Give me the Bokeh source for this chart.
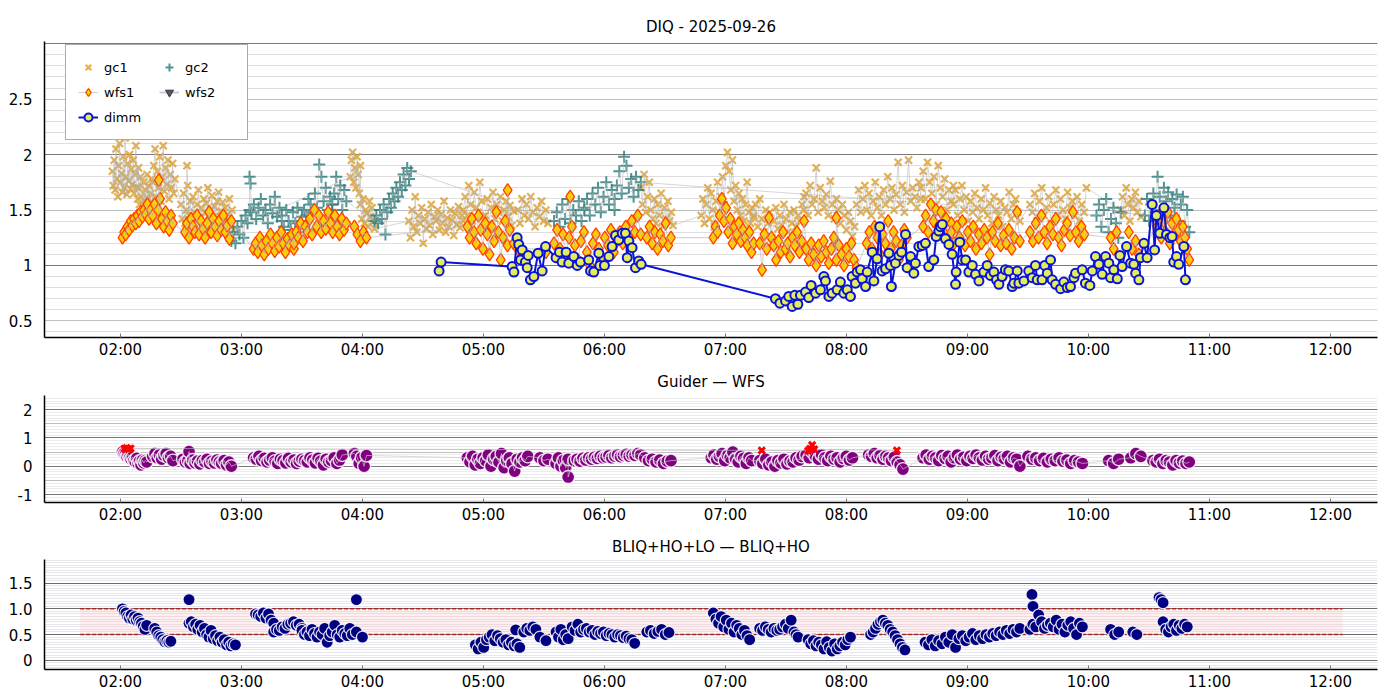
import numpy as np
from bokeh.plotting import figure
from bokeh.layouts import column
from bokeh.models import (ColumnDataSource, Range1d, FixedTicker, SingleIntervalTicker, Grid,
                          CustomJSTickFormatter, Legend, LegendItem)
from bokeh.embed import file_html
from bokeh.resources import INLINE

DATE = "2025-09-26"
TITLE_TOP = "DIQ - 2025-09-26"
TITLE_MID = "Guider — WFS"
TITLE_BOT = "BLIQ+HO+LO — BLIQ+HO"
X_START, X_END = "01:22:20", "12:23:20"
X_TICKS = ["02:00", "03:00", "04:00", "05:00", "06:00", "07:00", "08:00", "09:00", "10:00", "11:00", "12:00"]

TOP_Y = (0.35, 3.02)
TOP_YTICKS = [0.5, 1, 1.5, 2, 2.5]
TOP_YLABELS = ["0.5", "1", "1.5", "2", "2.5"]
MID_Y = (-1.28, 2.5)
MID_YTICKS = [-1, 0, 1, 2]
MID_YLABELS = ["-1", "0", "1", "2"]
BOT_Y = (-0.18, 1.96)
BOT_YTICKS = [0, 0.5, 1.0, 1.5]
BOT_YLABELS = ["0", "0.5", "1.0", "1.5"]
BAND_START, BAND_END = "01:40", "12:06"
BAND_LO, BAND_HI = 0.5, 1.0

# ---- top panel series: (start, end, values) blocks of samples ----
GC1 = [
    ("01:56", "02:09", [1.85, 1.72, 1.95, 1.68, 2.05, 1.78, 1.62, 1.9, 2.1, 1.75, 1.83, 1.66, 1.98, 1.7, 2.15,
                        1.8, 1.64, 1.92, 1.76, 2.0, 1.69, 1.87, 1.73, 1.95, 1.65, 1.82, 2.08, 1.71, 1.6, 1.88]),
    ("02:09", "02:16", [1.7, 1.55, 1.8, 1.62, 1.48, 1.75, 1.58, 1.68, 1.5, 1.82, 1.6, 1.72, 1.52, 1.65, 1.78, 1.57]),
    ("02:16", "02:27", [1.75, 1.9, 2.05, 1.62, 1.85, 1.7, 1.98, 1.58, 1.8, 2.08, 1.67, 1.88, 1.73, 1.95, 1.6,
                        1.82, 1.7, 1.92, 1.65, 1.78]),
    ("02:33", "02:33", [1.9]),
    ("02:30", "02:56", [1.55, 1.42, 1.65, 1.38, 1.5, 1.72, 1.45, 1.58, 1.35, 1.62, 1.48, 1.4, 1.55, 1.68, 1.43,
                        1.52, 1.37, 1.6, 1.47, 1.56, 1.7, 1.41, 1.5, 1.63, 1.36, 1.53, 1.45, 1.58, 1.66, 1.39,
                        1.49, 1.57, 1.44, 1.52, 1.35, 1.46, 1.6, 1.4, 1.5, 1.32]),
    ("03:54", "03:59", [1.8, 1.95, 2.02, 1.75, 1.88, 1.7, 1.98, 1.82, 1.65, 1.9]),
    ("03:59", "04:06", [1.55, 1.42, 1.6, 1.38, 1.5, 1.47, 1.35, 1.58, 1.44, 1.52, 1.4, 1.33]),
    ("04:23", "04:50", [1.4, 1.25, 1.5, 1.35, 1.62, 1.3, 1.45, 1.38, 1.52, 1.2, 1.42, 1.33, 1.48, 1.36, 1.55,
                        1.28, 1.44, 1.4, 1.5, 1.32, 1.46, 1.38, 1.58, 1.3, 1.43, 1.35, 1.5, 1.41, 1.27, 1.47,
                        1.37, 1.53, 1.34, 1.45, 1.4]),
    ("04:50", "05:00", [1.5, 1.62, 1.45, 1.72, 1.55, 1.4, 1.66, 1.52, 1.48, 1.75, 1.58, 1.44]),
    ("05:01", "05:15", [1.45, 1.6, 1.38, 1.52, 1.66, 1.42, 1.55, 1.48, 1.62, 1.4, 1.5, 1.58, 1.44, 1.54, 1.36, 1.49]),
    ("05:17", "05:32", [1.5, 1.38, 1.6, 1.45, 1.55, 1.42, 1.62, 1.48, 1.35, 1.52, 1.44, 1.58, 1.4, 1.5, 1.38]),
    ("06:18", "06:34", [1.7, 1.55, 1.82, 1.48, 1.62, 1.75, 1.5, 1.42, 1.6, 1.38, 1.55, 1.45, 1.65, 1.35, 1.52,
                        1.42, 1.58, 1.4, 1.48, 1.36]),
    ("06:48", "07:14", [1.45, 1.6, 1.38, 1.55, 1.7, 1.42, 1.65, 1.5, 1.35, 1.58, 1.75, 1.48, 1.62, 1.8, 1.55,
                        1.9, 2.02, 1.85, 1.68, 1.95, 1.58, 1.72, 1.5, 1.65, 1.45, 1.6, 1.4, 1.55, 1.75, 1.48,
                        1.38, 1.52, 1.43]),
    ("07:14", "07:39", [1.45, 1.55, 1.35, 1.6, 1.42, 1.3, 1.5, 1.38, 1.48, 1.25, 1.4, 1.52, 1.33, 1.45, 1.36,
                        1.55, 1.42, 1.3, 1.48, 1.38, 1.5, 1.35, 1.45, 1.4, 1.55, 1.62]),
    ("07:39", "08:04", [1.5, 1.65, 1.45, 1.72, 1.55, 1.6, 1.88, 1.48, 1.7, 1.58, 1.52, 1.64, 1.45, 1.76, 1.55,
                        1.42, 1.6, 1.5, 1.38, 1.55, 1.45, 1.32, 1.48, 1.4, 1.26, 1.35]),
    ("08:05", "08:37", [1.55, 1.68, 1.48, 1.6, 1.72, 1.5, 1.65, 1.45, 1.58, 1.75, 1.52, 1.62, 1.45, 1.68, 1.55,
                        1.8, 1.6, 1.7, 1.5, 1.64, 1.93, 1.55, 1.72, 1.48, 1.66, 1.95, 1.58, 1.7, 1.62, 1.52,
                        1.75, 1.6]),
    ("08:37", "08:53", [1.7, 1.85, 1.6, 1.93, 1.75, 1.65, 1.8, 1.55, 1.9, 1.7, 1.62, 1.78, 1.5, 1.68, 1.58, 1.72]),
    ("08:53", "09:26", [1.55, 1.68, 1.45, 1.6, 1.72, 1.5, 1.62, 1.4, 1.58, 1.48, 1.65, 1.52, 1.42, 1.6, 1.5,
                        1.7, 1.45, 1.56, 1.38, 1.62, 1.5, 1.45, 1.58, 1.35, 1.52, 1.48, 1.66, 1.42, 1.55, 1.6,
                        1.48, 1.4]),
    ("09:31", "09:59", [1.55, 1.48, 1.65, 1.4, 1.58, 1.7, 1.45, 1.52, 1.62, 1.38, 1.55, 1.68, 1.45, 1.6, 1.5,
                        1.42, 1.66, 1.52, 1.58, 1.45, 1.62, 1.4, 1.55, 1.48, 1.7]),
    ("10:16", "10:26", [1.5, 1.62, 1.45, 1.7, 1.55, 1.4, 1.6, 1.52, 1.66, 1.48, 1.58, 1.44]),
]

GC2 = [
    ("02:55", "03:04", [1.22, 1.3, 1.2, 1.35, 1.28, 1.4, 1.25, 1.45, 1.38, 1.5]),
    ("03:04", "03:04:30", [1.8, 1.74]),
    ("03:05", "03:20", [1.48, 1.55, 1.42, 1.52, 1.6, 1.45, 1.5, 1.38, 1.55, 1.47, 1.62, 1.44, 1.52, 1.4]),
    ("03:20", "03:30", [1.45, 1.35, 1.5, 1.4, 1.32, 1.48, 1.38, 1.52, 1.3, 1.44]),
    ("03:30", "03:45", [1.4, 1.5, 1.45, 1.6, 1.55, 1.48, 1.65, 1.52, 1.91, 1.8, 1.58, 1.7, 1.5, 1.62, 1.55]),
    ("03:45", "03:52", [1.55, 1.65, 1.8, 1.6, 1.72, 1.5, 1.68, 1.58]),
    ("04:06", "04:24", [1.4, 1.45, 1.38, 1.5, 1.42, 1.55, 1.28, 1.48, 1.6, 1.52, 1.65, 1.58, 1.7, 1.62, 1.75,
                        1.68, 1.82, 1.72, 1.88, 1.78, 1.85]),
    ("05:35", "05:50", [1.4, 1.48, 1.35, 1.55, 1.42, 1.6, 1.38, 1.5, 1.45, 1.58, 1.4, 1.52]),
    ("05:50", "06:05", [1.5, 1.6, 1.45, 1.65, 1.55, 1.7, 1.48, 1.62, 1.75, 1.55, 1.68, 1.5]),
    ("06:05", "06:18", [1.6, 1.72, 1.85, 1.65, 1.98, 1.9, 1.7, 1.78, 1.62, 1.8, 1.68, 1.75]),
    ("10:04", "10:16", [1.45, 1.55, 1.35, 1.5, 1.6, 1.3, 1.42, 1.52, 1.38, 1.25, 1.48]),
    ("10:28", "10:50", [1.45, 1.6, 1.4, 1.55, 1.65, 1.48, 1.8, 1.62, 1.5, 1.7, 1.58, 1.66, 1.45, 1.6, 1.52,
                        1.64, 1.4, 1.55, 1.62, 1.35, 1.5, 1.3]),
]

WFS1 = [
    ("02:01", "02:15", [1.25, 1.3, 1.28, 1.35, 1.32, 1.4, 1.36, 1.42, 1.38, 1.45, 1.4, 1.48, 1.44, 1.5, 1.46,
                        1.55, 1.42, 1.5]),
    ("02:19", "02:19", [1.77]),
    ("02:16", "02:26", [1.45, 1.55, 1.38, 1.5, 1.6, 1.42, 1.35, 1.48, 1.4, 1.32, 1.45, 1.38]),
    ("02:32", "02:55", [1.3, 1.38, 1.25, 1.42, 1.35, 1.3, 1.45, 1.28, 1.4, 1.33, 1.25, 1.38, 1.48, 1.3, 1.42,
                        1.35, 1.27, 1.4, 1.32, 1.45, 1.3, 1.36, 1.24, 1.4]),
    ("03:06", "03:26", [1.15, 1.2, 1.12, 1.25, 1.18, 1.1, 1.22, 1.15, 1.28, 1.2, 1.13, 1.25, 1.17, 1.3, 1.2,
                        1.12, 1.24, 1.18, 1.28, 1.15]),
    ("03:26", "03:52", [1.2, 1.3, 1.25, 1.38, 1.22, 1.35, 1.3, 1.42, 1.28, 1.5, 1.35, 1.45, 1.3, 1.4, 1.33,
                        1.48, 1.38, 1.3, 1.45, 1.35, 1.28, 1.42, 1.32, 1.38]),
    ("03:56", "04:02", [1.35, 1.28, 1.22, 1.3, 1.25]),
    ("04:52", "05:13", [1.35, 1.25, 1.42, 1.3, 1.2, 1.45, 1.32, 1.15, 1.38, 1.28, 1.1, 1.35, 1.22, 1.48, 1.3,
                        1.05, 1.25, 1.4, 1.18, 1.32]),
    ("05:12", "05:12", [1.68]),
    ("05:15", "05:17", [1.2, 1.15]),
    ("05:30", "05:31", [1.15, 1.12]),
    ("05:43", "05:43", [1.62]),
    ("05:35", "06:18", [1.2, 1.32, 1.15, 1.28, 1.1, 1.25, 1.35, 1.18, 1.05, 1.22, 1.3, 1.12, 1.0, 1.2, 1.28,
                        1.15, 1.08, 1.25, 1.18, 1.32, 1.12, 1.22, 1.3, 1.2, 1.35, 1.25, 1.4, 1.3, 1.45, 1.28]),
    ("06:21", "06:33", [1.25, 1.35, 1.2, 1.3, 1.15, 1.28, 1.22, 1.38, 1.18, 1.25]),
    ("06:54", "07:14", [1.25, 1.35, 1.3, 1.45, 1.6, 1.4, 1.52, 1.3, 1.42, 1.2, 1.35, 1.28, 1.38, 1.22, 1.32,
                        1.25, 1.18, 1.3, 1.12, 1.2]),
    ("07:17", "07:39", [1.2, 0.96, 1.28, 1.15, 1.43, 1.25, 1.18, 1.05, 1.22, 1.12, 1.3, 1.15, 1.2, 1.08, 1.25,
                        1.18, 1.3, 1.12, 1.22, 1.4]),
    ("07:40", "08:05", [1.15, 1.05, 1.2, 1.1, 1.0, 1.18, 1.08, 1.22, 1.12, 1.02, 1.15, 1.25, 1.05, 1.18, 1.1,
                        1.0, 1.15, 1.08, 1.2, 1.05, 0.98]),
    ("07:55", "07:55", [1.43]),
    ("08:10", "08:30", [1.2, 1.3, 1.15, 1.35, 1.25, 1.1, 1.28, 1.2, 1.4, 1.15, 1.3, 1.22, 1.05, 1.18, 1.32, 1.25]),
    ("08:38", "08:52", [1.35, 1.45, 1.3, 1.55, 1.4, 1.5, 1.35, 1.48, 1.3, 1.42, 1.25, 1.38]),
    ("08:52", "09:26", [1.3, 1.2, 1.35, 1.25, 1.4, 1.18, 1.3, 1.22, 1.35, 1.15, 1.28, 1.2, 1.32, 1.25, 1.1,
                        1.3, 1.22, 1.38, 1.18, 1.27, 1.2, 1.32, 1.15, 1.25, 1.48, 1.22]),
    ("09:31", "09:58", [1.3, 1.22, 1.38, 1.25, 1.45, 1.3, 1.2, 1.35, 1.28, 1.42, 1.25, 1.18, 1.32, 1.38, 1.27,
                        1.48, 1.3, 1.22, 1.35, 1.28]),
    ("10:11", "10:14", [1.25, 1.15, 1.3]),
    ("10:20", "10:25", [1.3, 1.15, 1.22, 1.1]),
    ("10:34", "10:50", [1.35, 1.45, 1.25, 1.4, 1.3, 1.48, 1.2, 1.38, 1.28, 1.42, 1.32, 1.22, 1.35, 1.25, 1.15,
                        1.05]),
]

# wfs2 has no valid samples on this night (a single missing value keeps its legend entry)
WFS2_T = ["05:00"]
WFS2_V = [float("nan")]

DIMM_T = ["04:38:00", "04:39:00", "05:14:12", "05:15:06", "05:16:42", "05:17:30", "05:18:24", "05:19:12",
          "05:20:48", "05:21:42", "05:22:12", "05:23:18", "05:25:00", "05:27:06", "05:29:06", "05:30:48",
          "05:36:00", "05:37:42", "05:39:00", "05:41:00", "05:42:18", "05:44:48", "05:46:30", "05:48:06",
          "05:52:12", "05:53:06", "05:54:42", "05:57:12", "05:57:42", "06:00:00", "06:02:12", "06:03:48",
          "06:05:30", "06:07:06", "06:08:48", "06:10:24", "06:11:18", "06:12:06", "06:13:42", "06:15:24",
          "06:17:00", "06:18:12",
          "07:24:48", "07:27:00", "07:29:48", "07:31:24", "07:33:06", "07:34:24", "07:35:54", "07:37:12",
          "07:39:42", "07:41:18", "07:42:30", "07:44:42", "07:47:06", "07:48:48", "07:49:36", "07:51:18",
          "07:52:54", "07:55:24", "07:57:00", "07:58:42", "08:00:24", "08:02:00", "08:02:48", "08:04:30",
          "08:05:18", "08:07:00", "08:07:48", "08:09:30", "08:10:18", "08:12:48", "08:13:36", "08:15:12",
          "08:16:30", "08:17:42", "08:19:24", "08:21:00", "08:21:48", "08:22:18", "08:24:18", "08:26:00",
          "08:27:18", "08:29:18", "08:30:06", "08:31:48", "08:33:24", "08:34:12", "08:35:54", "08:37:36",
          "08:39:12", "08:40:48", "08:43:18", "08:44:30", "08:45:48", "08:46:36", "08:47:30", "08:49:06",
          "08:50:48", "08:52:24", "08:54:06", "08:54:24", "08:56:12", "08:57:24", "08:59:06", "09:00:42",
          "09:02:24", "09:04:00", "09:05:42", "09:08:06", "09:09:48", "09:11:24", "09:13:06", "09:14:24",
          "09:15:36", "09:17:12", "09:18:48", "09:20:30",
          "09:22:12", "09:23:00", "09:24:42", "09:25:30", "09:28:00", "09:30:24", "09:32:06", "09:33:42",
          "09:34:36", "09:37:00", "09:38:18", "09:39:36", "09:41:12", "09:42:00", "09:43:42", "09:46:12",
          "09:47:48", "09:49:30", "09:51:06", "09:52:48", "09:53:36", "09:56:54", "09:58:30", "10:00:42",
          "10:01:54", "10:03:30", "10:05:12", "10:06:48", "10:08:30", "10:10:06", "10:11:00", "10:12:36",
          "10:14:18", "10:15:36", "10:16:42", "10:18:54", "10:20:54", "10:22:30", "10:23:24", "10:25:00",
          "10:25:48", "10:27:30", "10:29:06", "10:31:36", "10:32:48", "10:33:42", "10:35:24", "10:37:24",
          "10:38:42", "10:40:24", "10:41:30", "10:42:18", "10:43:42", "10:44:48", "10:47:18", "10:48:06"]
DIMM_V = [0.95, 1.03, 0.99, 0.94, 1.25, 1.19, 1.05, 1.14,
          1.03, 0.98, 1.09, 0.87, 0.90, 1.11, 0.95, 1.17,
          1.07, 1.12, 1.03, 1.12, 1.02, 1.08, 1.00, 1.03,
          1.05, 0.95, 0.94, 1.11, 1.00, 1.00, 1.08, 1.17,
          1.27, 1.23, 1.29, 1.29, 1.07, 1.22, 1.16, 0.98,
          1.04, 1.01,
          0.70, 0.66, 0.68, 0.72, 0.63, 0.73, 0.65, 0.73,
          0.76, 0.71, 0.82, 0.75, 0.78, 0.90, 0.86, 0.72,
          0.75, 0.78, 0.85, 0.75, 0.78, 0.72, 0.90, 0.84,
          0.94, 0.96, 0.88, 0.81, 0.94, 1.12, 0.86, 1.06,
          1.35, 0.95, 0.97, 1.11, 1.00, 0.81, 1.02, 1.09,
          1.12, 1.28, 0.98, 1.08, 0.93, 1.02, 1.17, 1.18,
          1.20, 0.99, 1.05, 1.26, 1.31, 1.35, 1.37, 1.24,
          1.19, 1.10, 0.83, 0.94, 1.21, 1.05, 1.05, 0.94,
          1.00, 0.92, 0.86, 0.94, 1.00, 0.91, 0.94, 0.87,
          0.83, 0.90, 0.96, 0.95,
          0.81, 0.84, 0.95, 0.84, 0.86, 0.95, 0.89, 1.00,
          0.87, 0.87, 1.00, 0.93, 1.05, 0.87, 0.83, 0.79,
          0.85, 0.80, 0.81, 0.89, 0.93, 0.96, 0.84, 0.82,
          0.95, 1.08, 1.01, 0.92, 1.08, 1.02, 0.89, 0.96,
          0.88, 1.09, 0.99, 1.17, 1.02, 1.01, 0.93, 0.87,
          1.07, 1.20, 1.07, 1.55, 1.14, 1.45, 1.29, 1.52,
          1.28, 1.25, 1.26, 1.03, 1.08, 1.01, 1.17, 0.87]

# ---- middle panel: Guider - WFS ----
GW = [
    ("02:01", "02:13", [0.5, 0.45, 0.4, 0.35, 0.42, 0.3, 0.25, 0.32, 0.2, 0.15, 0.28, 0.1, 0.18, 0.05, 0.22,
                        0.12, 0.2, 0.15]),
    ("02:16", "02:26", [0.35, 0.45, 0.3, 0.4, 0.25, 0.38, 0.45, 0.3, 0.35, 0.2]),
    ("02:34", "02:34", [0.52]),
    ("02:31", "02:55", [0.25, 0.15, 0.2, 0.1, 0.22, 0.12, 0.18, 0.08, 0.2, 0.15, 0.25, 0.1, 0.18, 0.12, 0.22,
                        0.15, 0.1, 0.2, 0.05, 0.15, 0.0]),
    ("03:06", "03:50", [0.3, 0.25, 0.35, 0.2, 0.28, 0.15, 0.22, 0.3, 0.18, 0.1, 0.25, 0.2, 0.12, 0.28, 0.15,
                        0.22, 0.1, 0.18, 0.25, 0.2, 0.15, 0.3, 0.22, 0.12, 0.28, 0.18, 0.05, 0.25, 0.15, 0.2,
                        0.3, 0.1, 0.22, 0.4]),
    ("03:56", "04:02", [0.45, 0.35, 0.1, 0.3, 0.0, 0.38]),
    ("04:52", "05:22", [0.3, 0.15, 0.35, 0.05, 0.25, 0.1, 0.3, 0.2, 0.4, 0.0, 0.25, 0.35, 0.15, 0.45, -0.05,
                        0.2, 0.3, 0.1, -0.17, 0.25, 0.15, 0.3, 0.2, 0.35]),
    ("05:28", "05:32", [0.3, 0.2, 0.25]),
    ("05:36", "05:42", [0.1, 0.3, 0.0, 0.2, -0.05, 0.25]),
    ("05:42", "05:42", [-0.38]),
    ("05:45", "06:18", [0.2, 0.25, 0.18, 0.28, 0.22, 0.3, 0.25, 0.32, 0.28, 0.35, 0.3, 0.33, 0.38, 0.3, 0.36,
                        0.4, 0.34, 0.38, 0.42, 0.36, 0.4, 0.38, 0.45, 0.4]),
    ("06:20", "06:33", [0.3, 0.2, 0.25, 0.15, 0.22, 0.1, 0.18, 0.2]),
    ("06:53", "07:13", [0.3, 0.4, 0.25, 0.35, 0.45, 0.2, 0.38, 0.3, 0.5, 0.25, 0.15, 0.35, 0.28, 0.1, 0.3, 0.2]),
    ("07:17", "07:38", [0.2, 0.1, 0.25, 0.05, 0.15, 0.0, 0.2, 0.12, 0.25, 0.08, 0.18, 0.15, 0.3, 0.22, 0.35]),
    ("07:40", "08:03", [0.4, 0.3, 0.5, 0.35, 0.25, 0.4, 0.3, 0.2, 0.35, 0.25, 0.3, 0.15, 0.28, 0.35, 0.22, 0.3]),
    ("08:11", "08:28", [0.4, 0.35, 0.45, 0.3, 0.38, 0.25, 0.35, 0.3, 0.2, 0.32, 0.15, 0.05, -0.1]),
    ("08:38", "09:26", [0.3, 0.4, 0.25, 0.35, 0.3, 0.2, 0.38, 0.28, 0.35, 0.15, 0.3, 0.4, 0.25, 0.32, 0.2,
                        0.35, 0.28, 0.4, 0.3, 0.22, 0.35, 0.25, 0.3, 0.38, 0.2, 0.32, 0.27, 0.35, 0.15, 0.3,
                        0.25, 0.0]),
    ("09:30", "09:57", [0.35, 0.25, 0.3, 0.2, 0.28, 0.15, 0.25, 0.2, 0.3, 0.18, 0.22, 0.1, 0.2, 0.15, 0.1]),
    ("10:10", "10:15", [0.2, 0.1, 0.25]),
    ("10:21", "10:26", [0.3, 0.45, 0.35]),
    ("10:32", "10:50", [0.2, 0.15, 0.25, 0.1, 0.2, 0.15, 0.05, 0.2, 0.12, 0.18, 0.1, 0.15]),
]
GW_OUT_T = ["02:02", "02:03", "02:04", "02:05", "07:18", "07:41", "07:42", "07:43", "07:44", "08:25"]
GW_OUT_V = [0.62, 0.65, 0.60, 0.63, 0.56, 0.55, 0.62, 0.75, 0.60, 0.56]

# ---- bottom panel: BLIQ+HO+LO - BLIQ+HO ----
BL = [
    ("02:01", "02:13", [1.0, 0.95, 0.92, 0.85, 0.82, 0.88, 0.8, 0.85, 0.78, 0.82, 0.75, 0.72, 0.66, 0.6, 0.68]),
    ("02:17", "02:25", [0.62, 0.55, 0.48, 0.45, 0.4, 0.36, 0.38, 0.35, 0.37]),
    ("02:34", "02:34", [1.18]),
    ("02:34", "02:57", [0.72, 0.75, 0.65, 0.7, 0.6, 0.68, 0.55, 0.62, 0.5, 0.45, 0.58, 0.42, 0.48, 0.38, 0.45,
                        0.35, 0.4, 0.3, 0.35, 0.28, 0.32, 0.3]),
    ("03:07", "03:16", [0.9, 0.88, 0.85, 0.92, 0.82, 0.9, 0.78, 0.72]),
    ("03:16", "03:30", [0.55, 0.6, 0.58, 0.65, 0.62, 0.7, 0.72, 0.75, 0.68, 0.7, 0.62]),
    ("03:30", "03:55", [0.58, 0.5, 0.55, 0.48, 0.6, 0.52, 0.45, 0.55, 0.5, 0.62, 0.35, 0.48, 0.55, 0.68, 0.5,
                        0.45, 0.58, 0.52, 0.48, 0.62, 0.5]),
    ("03:57", "03:57", [1.18]),
    ("03:57", "04:00", [0.55, 0.45]),
    ("04:56", "05:18", [0.3, 0.22, 0.35, 0.25, 0.4, 0.45, 0.5, 0.38, 0.48, 0.42, 0.35, 0.4, 0.3, 0.35, 0.28,
                        0.32, 0.25]),
    ("05:16", "05:16", [0.59]),
    ("05:20", "05:26", [0.55, 0.62, 0.58, 0.65, 0.6]),
    ("05:28", "05:31", [0.45, 0.38]),
    ("05:36", "05:42", [0.55, 0.45, 0.6, 0.4, 0.5, 0.42]),
    ("05:44", "06:15", [0.65, 0.58, 0.7, 0.55, 0.6, 0.62, 0.55, 0.58, 0.5, 0.56, 0.52, 0.55, 0.48, 0.52, 0.5,
                        0.45, 0.5, 0.48, 0.44, 0.47, 0.42, 0.4, 0.33]),
    ("06:21", "06:32", [0.55, 0.58, 0.52, 0.56, 0.6, 0.5, 0.54]),
    ("06:54", "07:12", [0.92, 0.8, 0.72, 0.85, 0.65, 0.78, 0.6, 0.72, 0.55, 0.68, 0.62, 0.5, 0.58, 0.48, 0.4]),
    ("07:17", "07:34", [0.62, 0.58, 0.65, 0.6, 0.55, 0.62, 0.58, 0.6, 0.65, 0.7, 0.62, 0.78, 0.55]),
    ("07:35", "07:36", [0.5, 0.45]),
    ("07:41", "08:02", [0.4, 0.32, 0.38, 0.28, 0.35, 0.3, 0.22, 0.36, 0.25, 0.18, 0.32, 0.22, 0.28, 0.35, 0.3,
                        0.4, 0.45]),
    ("08:12", "08:29", [0.5, 0.55, 0.62, 0.7, 0.75, 0.78, 0.72, 0.68, 0.6, 0.55, 0.48, 0.4, 0.32, 0.25, 0.2]),
    ("08:39", "09:26", [0.35, 0.3, 0.4, 0.28, 0.38, 0.32, 0.45, 0.35, 0.5, 0.25, 0.42, 0.48, 0.38, 0.45, 0.52,
                        0.4, 0.48, 0.42, 0.5, 0.45, 0.52, 0.48, 0.55, 0.5, 0.58, 0.52, 0.6, 0.55, 0.62]),
    ("09:32", "09:32:30", [1.28, 1.05]),
    ("09:31", "09:57", [0.6, 0.7, 0.65, 0.88, 0.75, 0.62, 0.68, 0.72, 0.65, 0.78, 0.6, 0.7, 0.55, 0.68, 0.75,
                        0.62, 0.5, 0.72, 0.65]),
    ("10:11", "10:15", [0.6, 0.5, 0.55]),
    ("10:22", "10:24", [0.55, 0.5]),
    ("10:35", "10:37", [1.22, 1.18, 1.12]),
    ("10:37", "10:49", [0.75, 0.6, 0.55, 0.65, 0.7, 0.58, 0.68, 0.62, 0.7, 0.65]),
]

EPOCH = np.datetime64("1970-01-01T00:00:00")


def ms(t):
    if t.count(":") == 1:
        t = t + ":00"
    return float((np.datetime64(f"{DATE}T{t}") - EPOCH) / np.timedelta64(1, "ms"))


def expand(blocks):
    xs, ys = [], []
    for start, end, vals in blocks:
        t0, t1 = ms(start), ms(end)
        n = len(vals)
        xs.extend(list(np.linspace(t0, t1, n)) if n > 1 else [t0])
        ys.extend(vals)
    order = np.argsort(xs, kind="stable")
    return [float(xs[i]) for i in order], [ys[i] for i in order]


def src(xs, ys):
    return ColumnDataSource(dict(x=xs, y=ys))


FONT = "DejaVu Sans"
FRAME_W = 1333
LABEL_JS = "const i = tv.indexOf(tick); return i >= 0 ? tl[i] : '';"


def make_fig(title, yr, yticks, ylabels, fh, top, bottom, standoff):
    p = figure(output_backend="svg", toolbar_location=None, frame_width=FRAME_W, frame_height=fh,
               x_range=Range1d(ms(X_START), ms(X_END)), y_range=Range1d(*yr),
               min_border_left=44, min_border_right=8, min_border_top=top, min_border_bottom=bottom,
               title=title)
    p.title.align = "center"
    p.title.text_font = FONT
    p.title.text_font_size = "15px"
    p.title.text_font_style = "normal"
    p.title.text_color = "black"
    p.title.standoff = standoff
    p.xgrid.visible = False
    p.ygrid.visible = False
    p.outline_line_color = None
    p.background_fill_color = "white"
    p.border_fill_color = "white"
    for ax in (p.xaxis[0], p.yaxis[0]):
        ax.axis_line_color = "black"
        ax.axis_line_width = 1.5
        ax.major_label_text_font = FONT
        ax.major_label_text_font_size = "15px"
        ax.major_label_text_color = "black"
        ax.minor_tick_line_color = None
    xt = [ms(t) for t in X_TICKS]
    p.xaxis.ticker = FixedTicker(ticks=xt)
    p.xaxis.formatter = CustomJSTickFormatter(args=dict(tv=xt, tl=X_TICKS), code=LABEL_JS)
    p.xaxis.major_tick_in = 4
    p.xaxis.major_tick_out = 0
    p.xaxis.major_tick_line_color = "#777777"
    p.xaxis.major_label_standoff = 3
    p.yaxis.ticker = FixedTicker(ticks=yticks)
    p.yaxis.formatter = CustomJSTickFormatter(args=dict(tv=yticks, tl=ylabels), code=LABEL_JS)
    p.yaxis.major_tick_line_color = None
    p.yaxis.major_label_standoff = 6
    return p


def hgrid(p, interval, color, width=1.0):
    g = Grid(dimension=1, ticker=SingleIntervalTicker(interval=interval), grid_line_color=color,
             grid_line_width=width, level="underlay")
    p.add_layout(g, "center")


CONNECT = "#b4b4b4"

# ---------------- top ----------------
p1 = make_fig(TITLE_TOP, TOP_Y, TOP_YTICKS, TOP_YLABELS, 296, 41, 28, 11)
hgrid(p1, 0.1, "#dedede")
hgrid(p1, 0.5, "#bebebe")
hgrid(p1, 1.0, "#7a7a7a")

gx, gy = expand(GC1)
s_gc1 = src(gx, gy)
r_gc1 = p1.scatter("x", "y", source=s_gc1, marker="x", size=10, line_width=2.2, line_color="#DCA23A",
                   line_alpha=0.85)
p1.line("x", "y", source=s_gc1, color=CONNECT, line_width=1, alpha=0.55)

cx, cy = expand(GC2)
s_gc2 = src(cx, cy)
r_gc2 = p1.scatter("x", "y", source=s_gc2, marker="cross", size=12, line_width=2, line_color="#337F7F",
                   line_alpha=0.85)
p1.line("x", "y", source=s_gc2, color=CONNECT, line_width=1, alpha=0.55)

wx, wy = expand(WFS1)
s_w1 = src(wx, wy)
r_w1 = p1.scatter("x", "y", source=s_w1, marker="diamond", size=13, fill_color="#FFD000", line_color="#FF4000",
                  line_width=1.3)
l_w1 = p1.line("x", "y", source=s_w1, color=CONNECT, line_width=1.2, alpha=0.55)

s_w2 = src([ms(t) for t in WFS2_T], WFS2_V)
l_w2 = p1.line("x", "y", source=s_w2, color="#cccccc", line_width=2)
r_w2 = p1.scatter("x", "y", source=s_w2, marker="inverted_triangle", size=10, fill_color="#555566",
                  line_color="#333344")

s_dimm = src([ms(t) for t in DIMM_T], DIMM_V)
l_dimm = p1.line("x", "y", source=s_dimm, color="#0A14D8", line_width=2)
r_dimm = p1.scatter("x", "y", source=s_dimm, marker="circle", size=9, fill_color="#E4EC5A", line_color="#0A14D8",
                    line_width=2)

legend = Legend(items=[LegendItem(label="gc1", renderers=[r_gc1]),
                       LegendItem(label="wfs1", renderers=[l_w1, r_w1]),
                       LegendItem(label="dimm", renderers=[l_dimm, r_dimm]),
                       LegendItem(label="gc2", renderers=[r_gc2]),
                       LegendItem(label="wfs2", renderers=[l_w2, r_w2])],
                ncols=2, location=(21, 197), margin=0, padding=12, spacing=5,
                glyph_width=20, glyph_height=20, label_standoff=6, label_width=50,
                label_text_font=FONT, label_text_font_size="13px", label_text_color="black",
                border_line_color="#555555", border_line_width=1.5,
                background_fill_color="white", background_fill_alpha=1.0)
p1.add_layout(legend, "center")

# ---------------- middle ----------------
p2 = make_fig(TITLE_MID, MID_Y, MID_YTICKS, MID_YLABELS, 107, 30, 29, 10)
hgrid(p2, 0.1, "#ebebeb")
hgrid(p2, 0.5, "#bebebe")
hgrid(p2, 1.0, "#7a7a7a")
mx, my = expand(GW)
s_gw = src(mx, my)
p2.scatter("x", "y", source=s_gw, marker="circle", size=13, fill_color="#800080", line_color="white",
           line_alpha=0.85, line_width=1.4)
p2.line("x", "y", source=s_gw, color="#c8c8c8", line_width=1, alpha=0.7)
s_out = src([ms(t) for t in GW_OUT_T], GW_OUT_V)
p2.line("x", "y", source=s_out, color=CONNECT, line_width=1, alpha=0.7)
p2.scatter("x", "y", source=s_out, marker="x", size=9, line_color="red", line_width=3)

# ---------------- bottom ----------------
p3 = make_fig(TITLE_BOT, BOT_Y, BOT_YTICKS, BOT_YLABELS, 110, 28, 20, 8)
hgrid(p3, 0.05, "#e6e6ee")
hgrid(p3, 0.5, "#6e6e6e")
band = ColumnDataSource(dict(l=[ms(BAND_START)], r=[ms(BAND_END)], b=[BAND_LO], t=[BAND_HI]))
p3.quad(left="l", right="r", bottom="b", top="t", source=band, fill_color="#ffb6b6", fill_alpha=0.22,
        line_color=None)
lims = ColumnDataSource(dict(x0=[ms(BAND_START)] * 2, x1=[ms(BAND_END)] * 2, y=[BAND_LO, BAND_HI]))
p3.segment(x0="x0", y0="y", x1="x1", y1="y", source=lims, line_color="#B22222", line_width=1.5,
           line_dash="4 2")
bx, by = expand(BL)
s_bl = src(bx, by)
p3.scatter("x", "y", source=s_bl, marker="circle", size=12, fill_color="#000080", line_color="white",
           line_alpha=0.85, line_width=1.2)

layout = column(p1, p2, p3, spacing=0)
open("out.html", "w").write(file_html(layout, INLINE))
